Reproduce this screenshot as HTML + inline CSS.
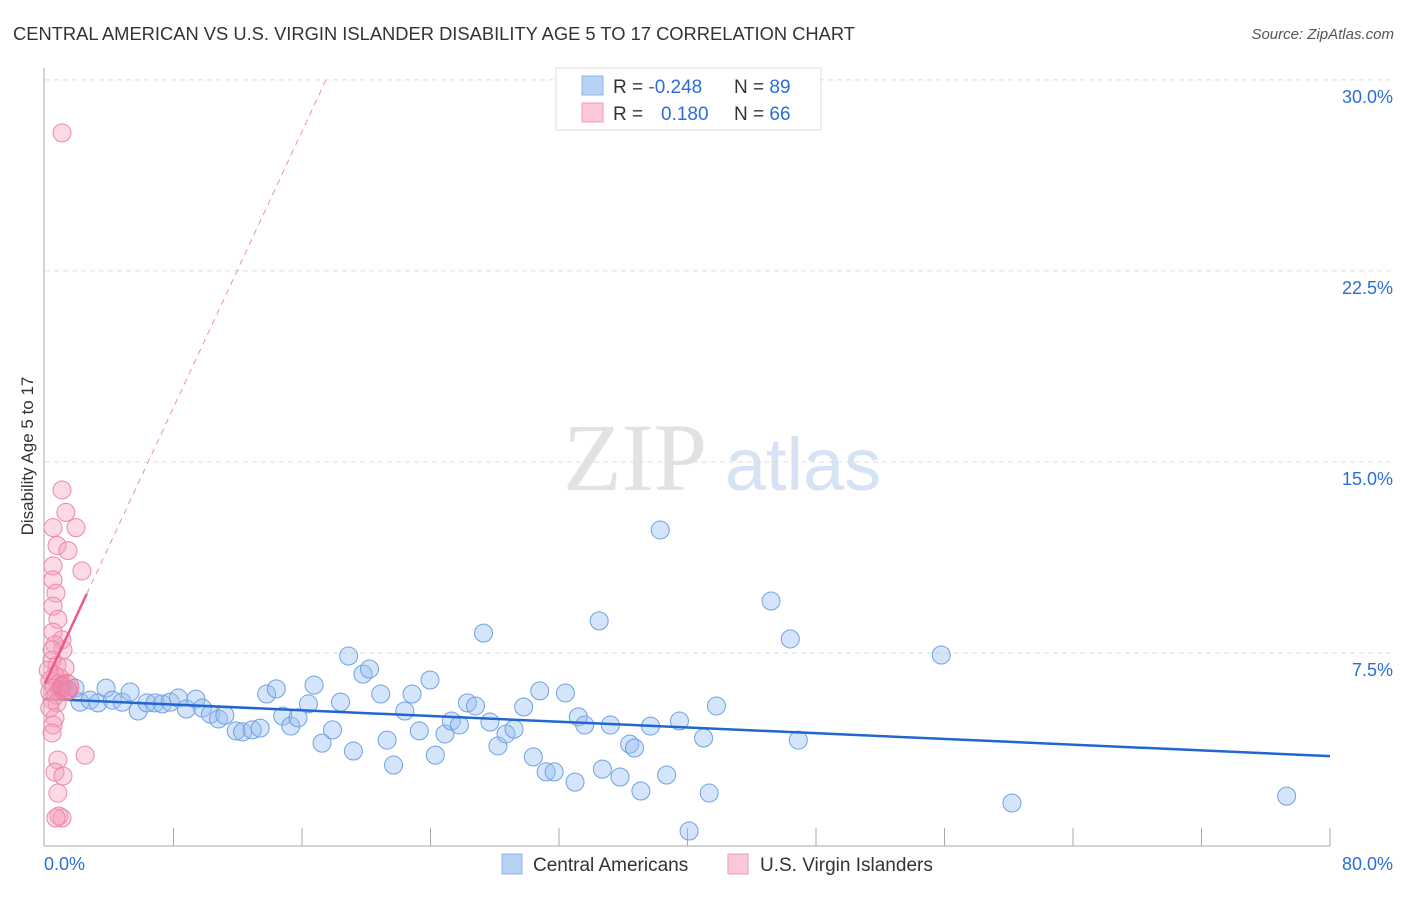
<!DOCTYPE html>
<html><head><meta charset="utf-8"><style>
body{margin:0;background:#fff;font-family:"Liberation Sans",sans-serif;}
</style></head><body>
<svg id="chart" width="1406" height="892" xmlns="http://www.w3.org/2000/svg" font-family="Liberation Sans, sans-serif">
<text x="13" y="40" font-size="18" fill="#333" textLength="842" lengthAdjust="spacingAndGlyphs">CENTRAL AMERICAN VS U.S. VIRGIN ISLANDER DISABILITY AGE 5 TO 17 CORRELATION CHART</text>
<text x="1394" y="39" font-size="15" fill="#555" text-anchor="end" font-style="italic">Source: ZipAtlas.com</text>
<text transform="translate(33,456) rotate(-90)" font-size="17" fill="#333" text-anchor="middle">Disability Age 5 to 17</text>
<g>
<text x="635" y="490" font-size="96" font-family="Liberation Serif, serif" fill="#e2e2e2" text-anchor="middle">ZIP</text>
<text x="803" y="490" font-size="74" fill="#d5e3f5" text-anchor="middle">atlas</text>
</g>
<g id="grid"></g>
<g id="axes"></g>
<g id="marks"></g>
<g>
<rect x="556" y="68" width="265" height="62" fill="#fff" stroke="#ddd"/>
<rect x="582" y="76" width="21" height="19" fill="#b8d2f5" stroke="#8fb4e8"/>
<rect x="582" y="103" width="21" height="19" fill="#fbc8d8" stroke="#f09ab5"/>
<text x="613" y="93" font-size="19" fill="#333">R = <tspan fill="#2b6fd6">-0.248</tspan></text>
<text x="734" y="93" font-size="19" fill="#333">N = <tspan fill="#2b6fd6">89</tspan></text>
<text x="613" y="120" font-size="19" fill="#333">R = <tspan fill="#2b6fd6" x="661">0.180</tspan></text>
<text x="734" y="120" font-size="19" fill="#333">N = <tspan fill="#2b6fd6">66</tspan></text>
</g>
<g>
<rect x="502" y="854" width="20" height="20" fill="#b8d2f5" stroke="#8fb4e8"/>
<text x="533" y="871" font-size="19" fill="#333">Central Americans</text>
<rect x="728" y="854" width="20" height="20" fill="#fbc8d8" stroke="#f09ab5"/>
<text x="760" y="871" font-size="19" fill="#333">U.S. Virgin Islanders</text>
</g>
</svg>
<script>
const blueX=[0.93,1.43,1.87,2.18,2.8,3.3,3.8,4.2,4.8,5.3,5.8,6.35,6.85,7.3,7.8,8.3,8.8,9.4,9.8,10.3,10.8,11.2,11.9,12.3,12.9,13.4,13.8,14.4,14.8,15.3,15.75,16.4,16.75,17.25,17.9,18.4,18.9,19.2,19.8,20.2,20.9,21.3,21.7,22.4,22.85,23.3,23.97,24.3,24.9,25.3,25.8,26.3,26.8,27.3,27.7,28.2,28.7,29.2,29.8,30.4,30.8,31.2,31.7,32.4,33.0,33.2,33.6,34.5,34.7,35.2,35.8,36.4,36.7,37.1,37.7,38.3,38.7,39.5,40.1,41.0,41.35,41.8,45.2,46.4,46.9,55.8,60.2,77.3];
const blueY=[6.05,6.05,6.12,5.57,5.65,5.54,6.12,5.65,5.57,5.97,5.22,5.54,5.54,5.5,5.57,5.73,5.3,5.69,5.34,5.1,4.91,5.06,4.44,4.4,4.48,4.55,5.89,6.09,5.02,4.63,4.95,5.5,6.24,3.96,4.48,5.57,7.38,3.65,6.67,6.87,5.89,4.08,3.1,5.22,5.89,4.44,6.44,3.49,4.32,4.83,4.67,5.54,5.42,8.28,4.79,3.85,4.32,4.51,5.38,3.42,6.01,2.83,2.83,5.93,2.43,4.99,4.67,8.76,2.94,4.67,2.63,3.92,3.77,2.08,4.63,12.33,2.71,4.83,0.51,4.16,2.0,5.42,9.54,8.05,4.08,7.42,1.61,1.88];
const pinkX=[1.06,1.06,1.3,0.5,1.93,0.75,1.43,0.5,2.3,0.5,0.68,0.5,0.8,0.5,1.06,0.62,1.12,0.44,0.75,1.25,0.62,0.93,0.3,0.8,0.56,1.06,0.3,0.68,0.93,0.44,0.75,0.3,0.62,0.5,0.44,2.5,0.8,0.62,1.12,0.8,0.87,1.06,0.68,1.43,0.2,0.44];
const pinkY=[27.92,13.9,13.02,12.42,12.42,11.72,11.52,10.92,10.72,10.37,9.85,9.34,8.82,8.32,8.02,7.82,7.62,7.22,7.02,6.92,6.62,6.52,6.42,6.28,6.12,6.2,5.97,5.85,6.05,5.65,5.54,5.34,4.95,4.67,4.36,3.49,3.3,2.82,2.67,2.0,1.1,1.02,1.02,6.05,6.82,7.62];
const yTicks=[7.5,15,22.5,30];
const yTickLabels=["7.5%","15.0%","22.5%","30.0%"];
const xTickLabels=["0.0%","80.0%"];
const blueTrend=[5.7,3.45]; // value at x=0 and x=80
const pinkIntercept=6.3, pinkSlope=1.355, pinkSolidEnd=2.6;

const X0=45,X1=1330,Y0=844,YPX=25.47;
const sx=v=>X0+(v/80)*(X1-X0);
const sy=v=>Y0-v*YPX;
const NS="http://www.w3.org/2000/svg";
function mk(tag,parent,attrs){const e=document.createElementNS(NS,tag);for(const k in attrs)e.setAttribute(k,attrs[k]);parent.appendChild(e);return e;}
const grid=document.getElementById('grid'),axes=document.getElementById('axes'),marks=document.getElementById('marks');
yTicks.forEach((t,i)=>{
  const l=mk('line',grid,{x1:45,x2:1395,y1:sy(t),y2:sy(t),stroke:'#ddd','stroke-dasharray':'5,4'});
  
  
  const tx=mk('text',axes,{x:1393,y:sy(t)+23,'font-size':18,fill:'#2b6fd6','text-anchor':'end'});
  tx.textContent=yTickLabels[i];
  
  
});
const ya=mk('line',axes,{x1:44,x2:44,y1:68,y2:846,stroke:'#aaa'});


const xa=mk('line',axes,{x1:44,x2:1330,y1:846,y2:846,stroke:'#aaa'});


for(let k=1;k<=10;k++){const x=X0+k*(X1-X0)/10;
  const t=mk('line',axes,{x1:x,x2:x,y1:828,y2:846,stroke:'#aaa'});
  
  }
const xl0=mk('text',axes,{x:44,y:870,'font-size':18,fill:'#2b6fd6'});xl0.textContent=xTickLabels[0];


const xl1=mk('text',axes,{x:1393,y:870,'font-size':18,fill:'#2b6fd6','text-anchor':'end'});xl1.textContent=xTickLabels[1];



blueX.forEach((v,i)=>{const c=mk('circle',marks,{cx:sx(v),cy:sy(blueY[i]),r:9,fill:'rgba(150,190,240,0.4)',stroke:'#6fa0e6','stroke-width':1});
  
  });
const bt=mk('line',marks,{x1:sx(0),y1:sy(blueTrend[0]),x2:sx(80),y2:sy(blueTrend[1]),stroke:'#2266d0','stroke-width':2.5});


pinkX.forEach((v,i)=>{const c=mk('circle',marks,{cx:sx(v),cy:sy(pinkY[i]),r:9,fill:'rgba(245,160,190,0.4)',stroke:'#ec88a8','stroke-width':1});
  
  });
const big=mk('circle',marks,{cx:sx(1.3),cy:sy(6.15),r:13,fill:'rgba(235,110,150,0.45)',stroke:'#e57ea0'});


const xEnd=(30-pinkIntercept)/pinkSlope;
const pd=mk('line',marks,{x1:sx(pinkSolidEnd),y1:sy(pinkIntercept+pinkSlope*pinkSolidEnd),x2:sx(xEnd),y2:sy(30),stroke:'#ec8fae','stroke-width':1,'stroke-dasharray':'6,5'});


const ps=mk('line',marks,{x1:sx(0),y1:sy(pinkIntercept),x2:sx(pinkSolidEnd),y2:sy(pinkIntercept+pinkSlope*pinkSolidEnd),stroke:'#e85a8a','stroke-width':2.5});


</script>
</body></html>
